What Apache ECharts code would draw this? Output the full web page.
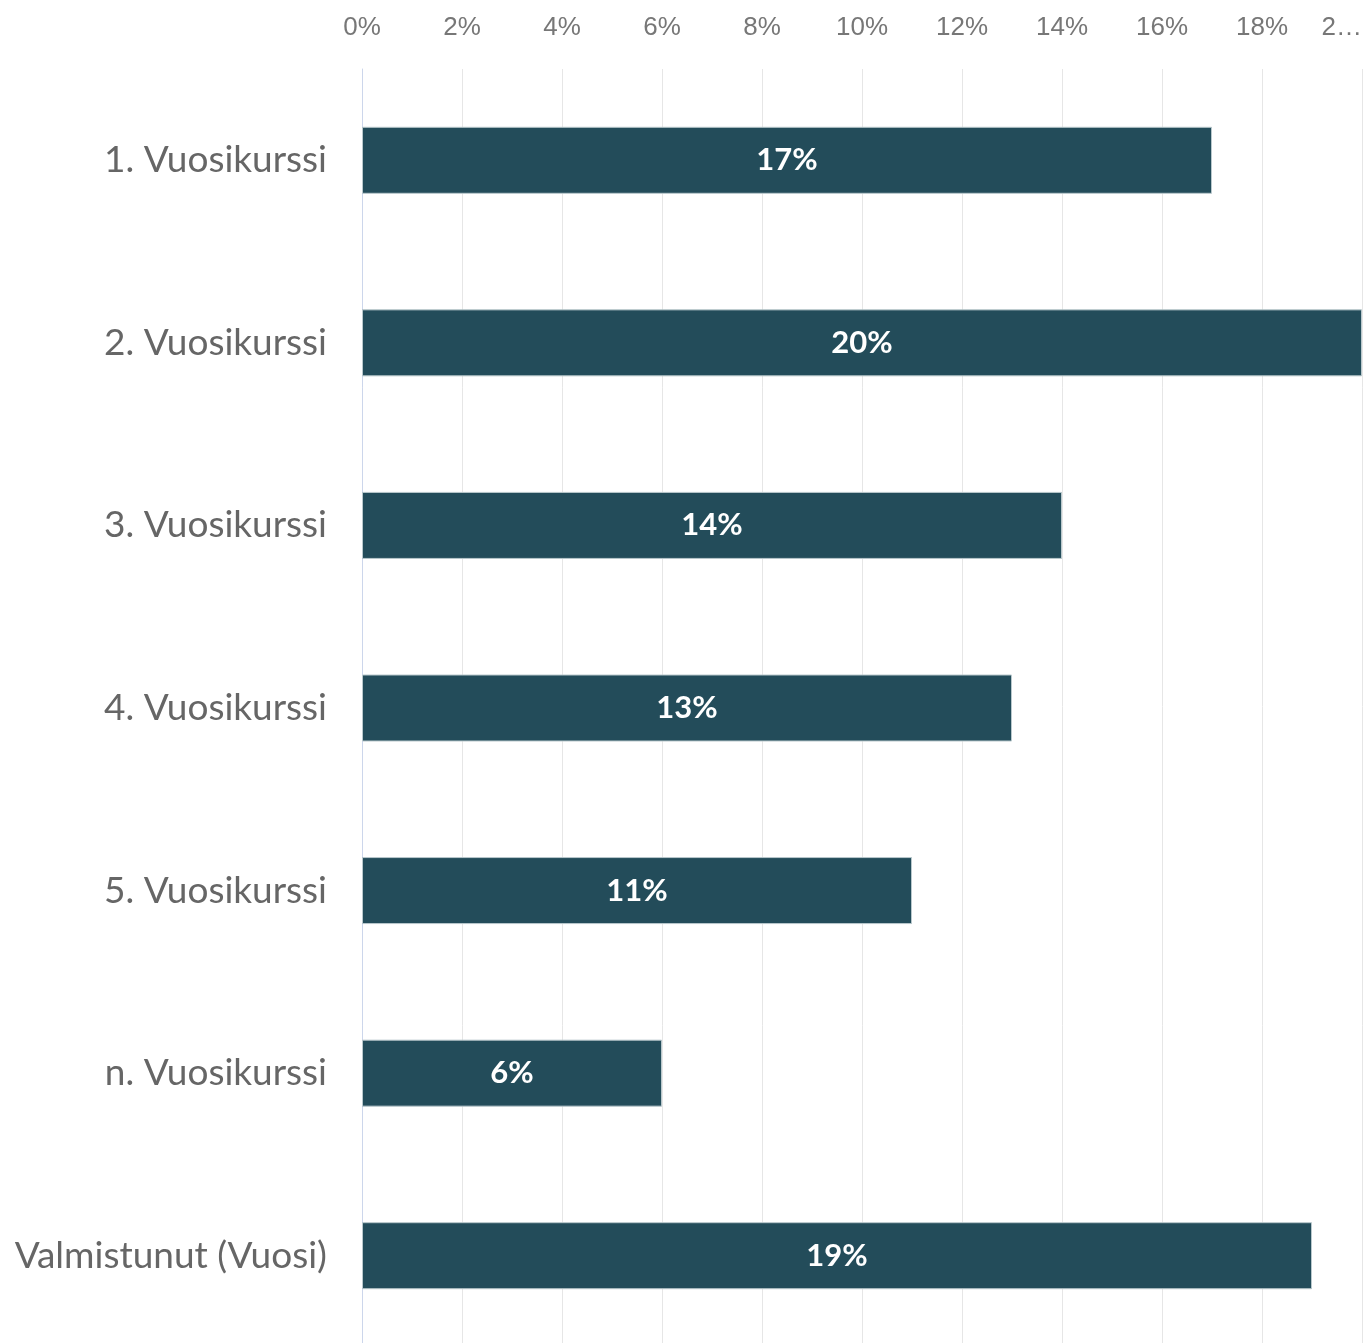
<!DOCTYPE html>
<html>
<head>
<meta charset="utf-8">
<script src="https://cdn.jsdelivr.net/npm/echarts@6/dist/echarts.min.js"></script>
<style>
  html, body { margin:0; padding:0; background:#fff; }
  #chart { width:1368px; height:1343px; }
</style>
</head>
<body>
<div id="chart"></div>
<script>
// luokat ja osuudet (%)
var categories = ['1. Vuosikurssi', '2. Vuosikurssi', '3. Vuosikurssi', '4. Vuosikurssi', '5. Vuosikurssi', 'n. Vuosikurssi', 'Valmistunut (Vuosi)'];
var values = [17, 20, 14, 13, 11, 6, 19];
var ticks = [0, 2, 4, 6, 8, 10, 12, 14, 16, 18, 20];

var myChart = echarts.init(document.getElementById('chart'));
var option = {
  backgroundColor: '#fff',
  animation: false,
  grid: { left: 362, right: 6, top: 69, bottom: -4, containLabel: false, outerBoundsMode: 'none' },
  xAxis: {
    type: 'value',
    position: 'top',
    min: ticks[0],
    max: ticks[ticks.length - 1],
    interval: 2,
    axisLine: { show: false },
    axisTick: { show: false },
    splitLine: { show: true, lineStyle: { color: '#e6e6e6', width: 1 } },
    axisLabel: {
      margin: 28,
      color: '#777',
      fontSize: 26,
      fontFamily: 'Liberation Sans, Arial, sans-serif',
      showMaxLabel: true,
      alignMaxLabel: 'right',
      formatter: function (v) {
        // viimeinen tikki katkaistu kuten alkuperäisessä
        return v === 20 ? '2…' : v + '%';
      }
    }
  },
  yAxis: {
    type: 'category',
    data: categories,
    inverse: true,
    axisLine: { show: true, lineStyle: { color: '#ccd6eb', width: 1 } },
    axisTick: { show: false },
    splitLine: { show: false },
    axisLabel: {
      margin: 35,
      color: '#666',
      fontSize: 37,
      fontFamily: 'Lato, sans-serif'
    }
  },
  series: [{
    type: 'bar',
    data: values,
    barWidth: 67,
    itemStyle: { color: '#234c5a', borderColor: '#b9c8cc', borderWidth: 1 },
    label: {
      show: true,
      position: 'inside',
      color: '#fff',
      fontSize: 31,
      fontWeight: 'bold',
      fontFamily: 'Lato, sans-serif',
      formatter: '{c}%'
    }
  }]
};
myChart.setOption(option);
</script>
</body>
</html>
